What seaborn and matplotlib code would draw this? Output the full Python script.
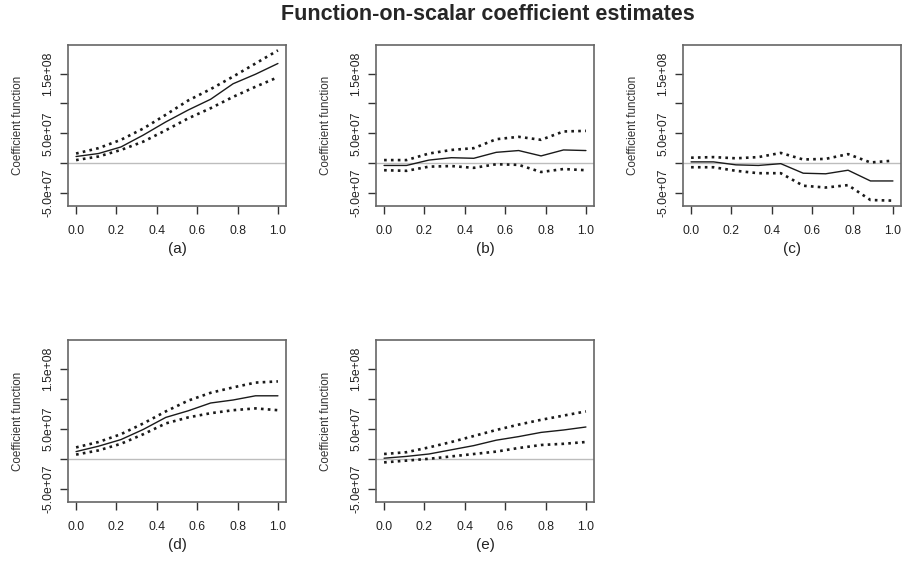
import numpy as np
import pandas as pd
import seaborn as sns
import matplotlib.pyplot as plt

# --- data (grid of 10 points on [0, 1]) ---
grid = [i / 9 for i in range(10)]
panel_labels = ['(a)', '(b)', '(c)', '(d)', '(e)']

est_a = [1.1e7, 1.6e7, 2.7e7, 4.7e7, 6.9e7, 8.9e7, 1.07e8, 1.33e8, 1.49e8, 1.67e8]
upr_a = [1.6e7, 2.5e7, 3.9e7, 5.8e7, 8.1e7, 1.05e8, 1.24e8, 1.45e8, 1.67e8, 1.89e8]
lwr_a = [0.5e7, 1.1e7, 2.2e7, 3.6e7, 5.5e7, 7.5e7, 9.2e7, 1.11e8, 1.28e8, 1.44e8]

est_b = [-0.4e7, -0.4e7, 0.5e7, 0.9e7, 0.8e7, 1.8e7, 2.1e7, 1.2e7, 2.2e7, 2.1e7]
upr_b = [0.5e7, 0.5e7, 1.6e7, 2.2e7, 2.5e7, 4.0e7, 4.4e7, 3.9e7, 5.3e7, 5.4e7]
lwr_b = [-1.2e7, -1.3e7, -0.6e7, -0.5e7, -0.8e7, -0.2e7, -0.3e7, -1.5e7, -1.0e7, -1.2e7]

est_c = [0.2e7, 0.2e7, -0.3e7, -0.4e7, -0.1e7, -1.7e7, -1.8e7, -1.2e7, -3.0e7, -3.0e7]
upr_c = [0.9e7, 1.0e7, 0.8e7, 1.0e7, 1.7e7, 0.6e7, 0.7e7, 1.5e7, 0.1e7, 0.4e7]
lwr_c = [-0.7e7, -0.7e7, -1.3e7, -1.7e7, -1.7e7, -3.8e7, -4.1e7, -3.7e7, -6.2e7, -6.3e7]

est_d = [1.2e7, 2.1e7, 3.2e7, 4.9e7, 6.9e7, 8.0e7, 9.3e7, 9.8e7, 1.05e8, 1.05e8]
upr_d = [1.9e7, 2.8e7, 4.1e7, 5.9e7, 7.9e7, 9.7e7, 1.10e8, 1.19e8, 1.27e8, 1.29e8]
lwr_d = [0.7e7, 1.4e7, 2.5e7, 4.1e7, 5.9e7, 6.9e7, 7.6e7, 8.1e7, 8.4e7, 8.1e7]

est_e = [0.1e7, 0.4e7, 0.8e7, 1.5e7, 2.2e7, 3.1e7, 3.7e7, 4.4e7, 4.8e7, 5.3e7]
upr_e = [0.8e7, 1.1e7, 1.9e7, 2.8e7, 3.8e7, 4.8e7, 5.7e7, 6.5e7, 7.2e7, 7.9e7]
lwr_e = [-0.6e7, -0.3e7, 0.0, 0.4e7, 0.8e7, 1.2e7, 1.8e7, 2.3e7, 2.5e7, 2.8e7]

y_ticks = [-5e7, 0, 5e7, 1e8, 1.5e8]
y_tick_labels = ['-5.0e+07', '', '5.0e+07', '', '1.5e+08']
x_ticks = [0.0, 0.2, 0.4, 0.6, 0.8, 1.0]

panels = [
    (est_a, upr_a, lwr_a),
    (est_b, upr_b, lwr_b),
    (est_c, upr_c, lwr_c),
    (est_d, upr_d, lwr_d),
    (est_e, upr_e, lwr_e),
]

# --- style ---
sns.set_style('white')
plt.rcParams['font.family'] = ['Liberation Sans', 'DejaVu Sans']

fig = plt.figure(figsize=(9.02, 5.66), dpi=100)

# axes boxes in figure pixels: (left, top, height), width 218
W, H = 902, 566
box_w = 218
boxes = [(68, 45, 161), (376, 45, 161), (683, 45, 161),
         (68, 340, 162), (376, 340, 162)]

ylim = (-7.2e7, 1.98e8)
xlim = (-0.04, 1.04)
dotted = (0, (1.0, 1.6))

for (est, upr, lwr), label, (left, top, bh) in zip(panels, panel_labels, boxes):
    ax = fig.add_axes([left / W, (H - top - bh) / H, box_w / W, bh / H])
    df = pd.DataFrame({'s': grid, 'est': est, 'upr': upr, 'lwr': lwr})

    ax.axhline(0, color='#bdbdbd', lw=1.0, zorder=1)
    sns.lineplot(data=df, x='s', y='est', ax=ax, color='#1a1a1a', lw=1.0, zorder=3)
    sns.lineplot(data=df, x='s', y='upr', ax=ax, color='#1a1a1a', lw=1.9,
                 linestyle=dotted, zorder=3)
    sns.lineplot(data=df, x='s', y='lwr', ax=ax, color='#1a1a1a', lw=1.9,
                 linestyle=dotted, zorder=3)

    ax.set_xlim(*xlim)
    ax.set_ylim(*ylim)
    ax.set_xticks(x_ticks)
    ax.set_xticklabels([f'{v:.1f}' for v in x_ticks], fontsize=8.8, color='#222222')
    ax.set_yticks(y_ticks)
    ax.set_yticklabels(y_tick_labels, fontsize=8.8, color='#222222',
                       rotation=90, va='center')
    ax.tick_params(axis='both', direction='out', length=6, width=1.0,
                   color='#333333', left=True, bottom=True)
    ax.tick_params(axis='x', pad=8)
    ax.tick_params(axis='y', pad=4)
    for sp in ax.spines.values():
        sp.set_color('#666666')
        sp.set_linewidth(1.2)

    ax.set_ylabel('Coefficient function', fontsize=8.4, color='#333333', va='center')
    ax.yaxis.set_label_coords(-50 / box_w, 0.5)
    ax.set_xlabel(label, fontsize=11, color='#222222', va='center')
    ax.xaxis.set_label_coords(0.5, -43 / bh)

fig.suptitle('Function-on-scalar coefficient estimates', fontsize=15.5,
             fontweight='bold', x=488 / W, y=1 - 14 / H, va='center')

fig.savefig('out.png', dpi=100)
